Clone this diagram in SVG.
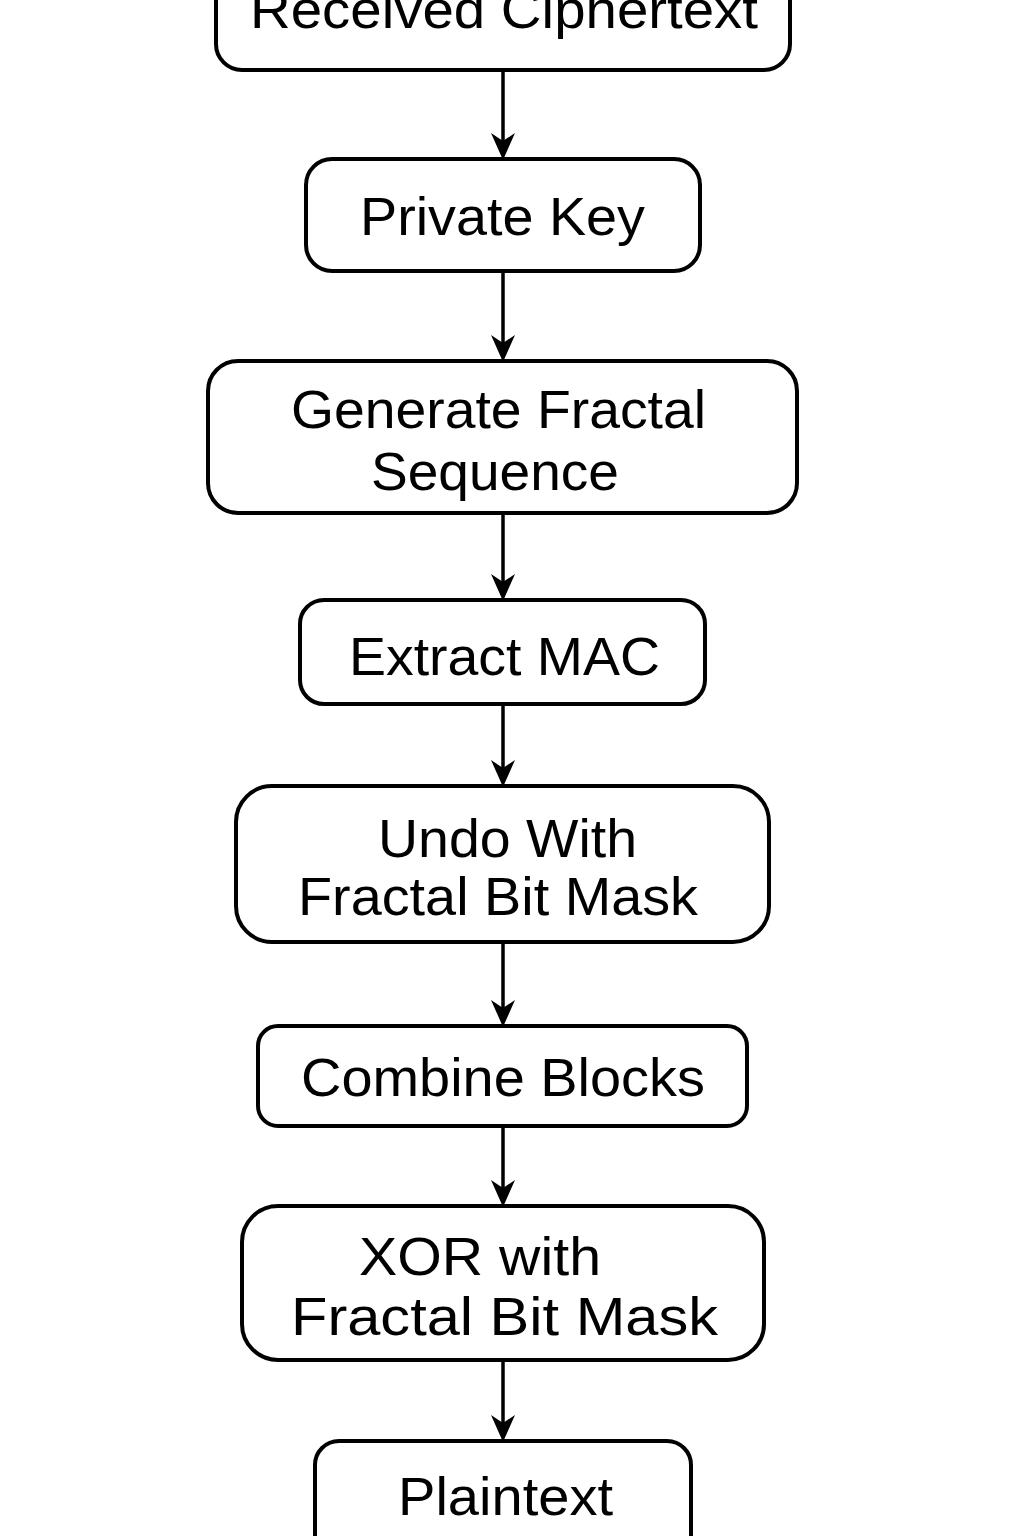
<svg xmlns="http://www.w3.org/2000/svg" width="1024" height="1536" viewBox="0 0 1024 1536">
<defs>
<style>
.box{fill:#fff;stroke:#000;stroke-width:4}
.t{font-family:"Liberation Sans",Arial,sans-serif;font-size:53px;fill:#000}
.c{stroke:#000;stroke-width:3.5;fill:none}
</style>
</defs>
<rect width="1024" height="1536" fill="#fff"/>
<g id="connectors">
<line class="c" x1="503" y1="70" x2="503" y2="150"/>
<line class="c" x1="503" y1="271" x2="503" y2="352"/>
<line class="c" x1="503" y1="513" x2="503" y2="591"/>
<line class="c" x1="503" y1="704" x2="503" y2="777"/>
<line class="c" x1="503" y1="942" x2="503" y2="1017"/>
<line class="c" x1="503" y1="1126" x2="503" y2="1197"/>
<line class="c" x1="503" y1="1360" x2="503" y2="1432"/>
<g fill="#000">
<path d="M491,133 L503,141 L515,133 L503,160 Z"/>
<path d="M491,335 L503,343 L515,335 L503,362 Z"/>
<path d="M491,574 L503,582 L515,574 L503,601 Z"/>
<path d="M491,760 L503,768 L515,760 L503,787 Z"/>
<path d="M491,1000 L503,1008 L515,1000 L503,1027 Z"/>
<path d="M491,1180 L503,1188 L515,1180 L503,1207 Z"/>
<path d="M491,1415 L503,1423 L515,1415 L503,1442 Z"/>
</g>
</g>
<g id="n1">
<rect class="box" x="216" y="-60" width="574" height="130" rx="26"/>
<text class="t" x="250" y="28" textLength="508" lengthAdjust="spacingAndGlyphs">Received Ciphertext</text>
</g>
<g id="n2">
<rect class="box" x="306" y="159" width="394" height="112" rx="26"/>
<text class="t" x="360" y="235" textLength="285" lengthAdjust="spacingAndGlyphs">Private Key</text>
</g>
<g id="n3">
<rect class="box" x="208" y="361" width="589" height="152" rx="30"/>
<text class="t" x="291" y="428" textLength="415" lengthAdjust="spacingAndGlyphs">Generate Fractal</text>
<text class="t" x="371" y="490" textLength="248" lengthAdjust="spacingAndGlyphs">Sequence</text>
</g>
<g id="n4">
<rect class="box" x="300" y="600" width="405" height="104" rx="24"/>
<text class="t" x="349" y="675" textLength="311" lengthAdjust="spacingAndGlyphs">Extract MAC</text>
</g>
<g id="n5">
<rect class="box" x="236" y="786" width="533" height="156" rx="36"/>
<text class="t" x="378" y="857" textLength="259" lengthAdjust="spacingAndGlyphs">Undo With</text>
<text class="t" x="298" y="915" textLength="400" lengthAdjust="spacingAndGlyphs">Fractal Bit Mask</text>
</g>
<g id="n6">
<rect class="box" x="258" y="1026" width="489" height="100" rx="20"/>
<text class="t" x="301" y="1096" textLength="404" lengthAdjust="spacingAndGlyphs">Combine Blocks</text>
</g>
<g id="n7">
<rect class="box" x="242" y="1206" width="522" height="154" rx="36"/>
<text class="t" x="359" y="1275" textLength="242" lengthAdjust="spacingAndGlyphs">XOR with</text>
<text class="t" x="291" y="1335" textLength="427" lengthAdjust="spacingAndGlyphs">Fractal Bit Mask</text>
</g>
<g id="n8">
<rect class="box" x="315" y="1441" width="376" height="140" rx="24"/>
<text class="t" x="398" y="1515" textLength="215" lengthAdjust="spacingAndGlyphs">Plaintext</text>
</g>
</svg>
